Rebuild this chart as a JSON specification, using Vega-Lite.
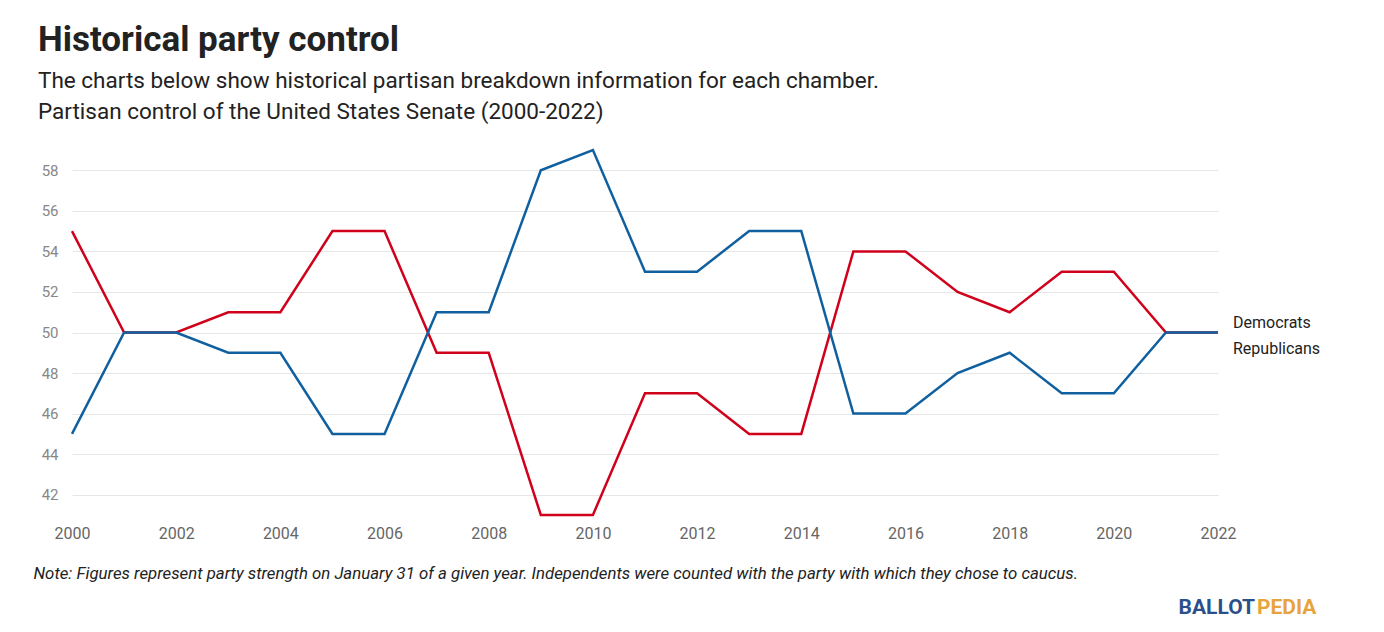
{
  "$schema": "https://vega.github.io/schema/vega-lite/v6.json",
  "width": 1146,
  "height": 365,
  "autosize": "none",
  "padding": {"left": 72, "top": 150, "right": 166, "bottom": 117},
  "background": "white",
  "title": {
    "text": "Historical party control",
    "subtitle": ["The charts below show historical partisan breakdown information for each chamber.", "Partisan control of the United States Senate (2000-2022)"],
    "anchor": "start",
    "frame": "group",
    "dx": -34,
    "offset": 22,
    "font": "Roboto",
    "fontSize": 35,
    "fontWeight": "bold",
    "color": "#222",
    "subtitleFont": "Roboto",
    "subtitleFontSize": 22.5,
    "subtitleColor": "#222",
    "subtitlePadding": 12,
    "subtitleLineHeight": 31
  },
  "data": {
    "values": [
      {"year": 2000, "Democrats": 45, "Republicans": 55},
      {"year": 2001, "Democrats": 50, "Republicans": 50},
      {"year": 2002, "Democrats": 50, "Republicans": 50},
      {"year": 2003, "Democrats": 49, "Republicans": 51},
      {"year": 2004, "Democrats": 49, "Republicans": 51},
      {"year": 2005, "Democrats": 45, "Republicans": 55},
      {"year": 2006, "Democrats": 45, "Republicans": 55},
      {"year": 2007, "Democrats": 51, "Republicans": 49},
      {"year": 2008, "Democrats": 51, "Republicans": 49},
      {"year": 2009, "Democrats": 58, "Republicans": 41},
      {"year": 2010, "Democrats": 59, "Republicans": 41},
      {"year": 2011, "Democrats": 53, "Republicans": 47},
      {"year": 2012, "Democrats": 53, "Republicans": 47},
      {"year": 2013, "Democrats": 55, "Republicans": 45},
      {"year": 2014, "Democrats": 55, "Republicans": 45},
      {"year": 2015, "Democrats": 46, "Republicans": 54},
      {"year": 2016, "Democrats": 46, "Republicans": 54},
      {"year": 2017, "Democrats": 48, "Republicans": 52},
      {"year": 2018, "Democrats": 49, "Republicans": 51},
      {"year": 2019, "Democrats": 47, "Republicans": 53},
      {"year": 2020, "Democrats": 47, "Republicans": 53},
      {"year": 2021, "Democrats": 50, "Republicans": 50},
      {"year": 2022, "Democrats": 50, "Republicans": 50}
    ]
  },
  "transform": [
    {"fold": ["Republicans", "Democrats"], "as": ["party", "seats"]}
  ],
  "layer": [
    {
      "mark": {"type": "line", "strokeWidth": 2.5},
      "encoding": {
        "x": {
          "field": "year", "type": "quantitative",
          "scale": {"domain": [2000, 2022], "nice": false, "zero": false},
          "axis": {
            "values": [2000, 2002, 2004, 2006, 2008, 2010, 2012, 2014, 2016, 2018, 2020, 2022],
            "format": "d", "grid": false, "domain": false, "ticks": false, "labelFlush": false,
            "labelPadding": 10, "labelFontSize": 16, "labelColor": "#666", "labelFont": "Roboto",
            "title": "Note: Figures represent party strength on January 31 of a given year. Independents were counted with the party with which they chose to caucus.",
            "titleFont": "Roboto", "titleFontSize": 16.8, "titleFontStyle": "italic", "titleFontWeight": "normal",
            "titleColor": "#222", "titleAnchor": "start", "titleAlign": "left", "titleX": -39, "titlePadding": 24
          }
        },
        "y": {
          "field": "seats", "type": "quantitative",
          "scale": {"domain": [41, 59], "nice": false, "zero": false},
          "axis": {
            "values": [42, 44, 46, 48, 50, 52, 54, 56, 58],
            "domain": false, "ticks": false, "title": null,
            "gridColor": "#e6e6e6", "labelPadding": 14, "labelFontSize": 15, "labelColor": "#888", "labelFont": "Roboto"
          }
        },
        "color": {
          "field": "party", "type": "nominal",
          "scale": {"domain": ["Democrats", "Republicans"], "range": ["#1060a0", "#d0021b"]},
          "legend": null
        },
        "order": {"field": "year"}
      }
    },
    {
      "transform": [{"filter": "datum.year == 2022 && datum.party == 'Democrats'"}],
      "mark": {"type": "text", "align": "left", "dx": 15, "dy": -10, "font": "Roboto", "fontSize": 16, "color": "#222"},
      "encoding": {
        "x": {"field": "year", "type": "quantitative"},
        "y": {"field": "seats", "type": "quantitative"},
        "text": {"field": "party", "type": "nominal"}
      }
    },
    {
      "transform": [{"filter": "datum.year == 2022 && datum.party == 'Republicans'"}],
      "mark": {"type": "text", "align": "left", "dx": 15, "dy": 16, "font": "Roboto", "fontSize": 16, "color": "#222"},
      "encoding": {
        "x": {"field": "year", "type": "quantitative"},
        "y": {"field": "seats", "type": "quantitative"},
        "text": {"field": "party", "type": "nominal"}
      }
    },
    {
      "data": {"values": [{"year": 2022, "seats": 41, "part": "BALLOT"}]},
      "mark": {"type": "text", "align": "right", "dx": 37, "dy": 93, "font": "Roboto", "fontSize": 21, "fontWeight": "bold", "color": "#2b4f8a", "letterSpacing": 1.5},
      "encoding": {
        "x": {"field": "year", "type": "quantitative"},
        "y": {"field": "seats", "type": "quantitative"},
        "text": {"field": "part", "type": "nominal"}
      }
    },
    {
      "data": {"values": [{"year": 2022, "seats": 41, "part": "PEDIA"}]},
      "mark": {"type": "text", "align": "left", "dx": 39, "dy": 93, "font": "Roboto", "fontSize": 21, "fontWeight": "bold", "color": "#e8a33d", "letterSpacing": 1.5},
      "encoding": {
        "x": {"field": "year", "type": "quantitative"},
        "y": {"field": "seats", "type": "quantitative"},
        "text": {"field": "part", "type": "nominal"}
      }
    }
  ],
  "config": {
    "view": {"stroke": null},
    "text": {"baseline": "middle"}
  }
}
